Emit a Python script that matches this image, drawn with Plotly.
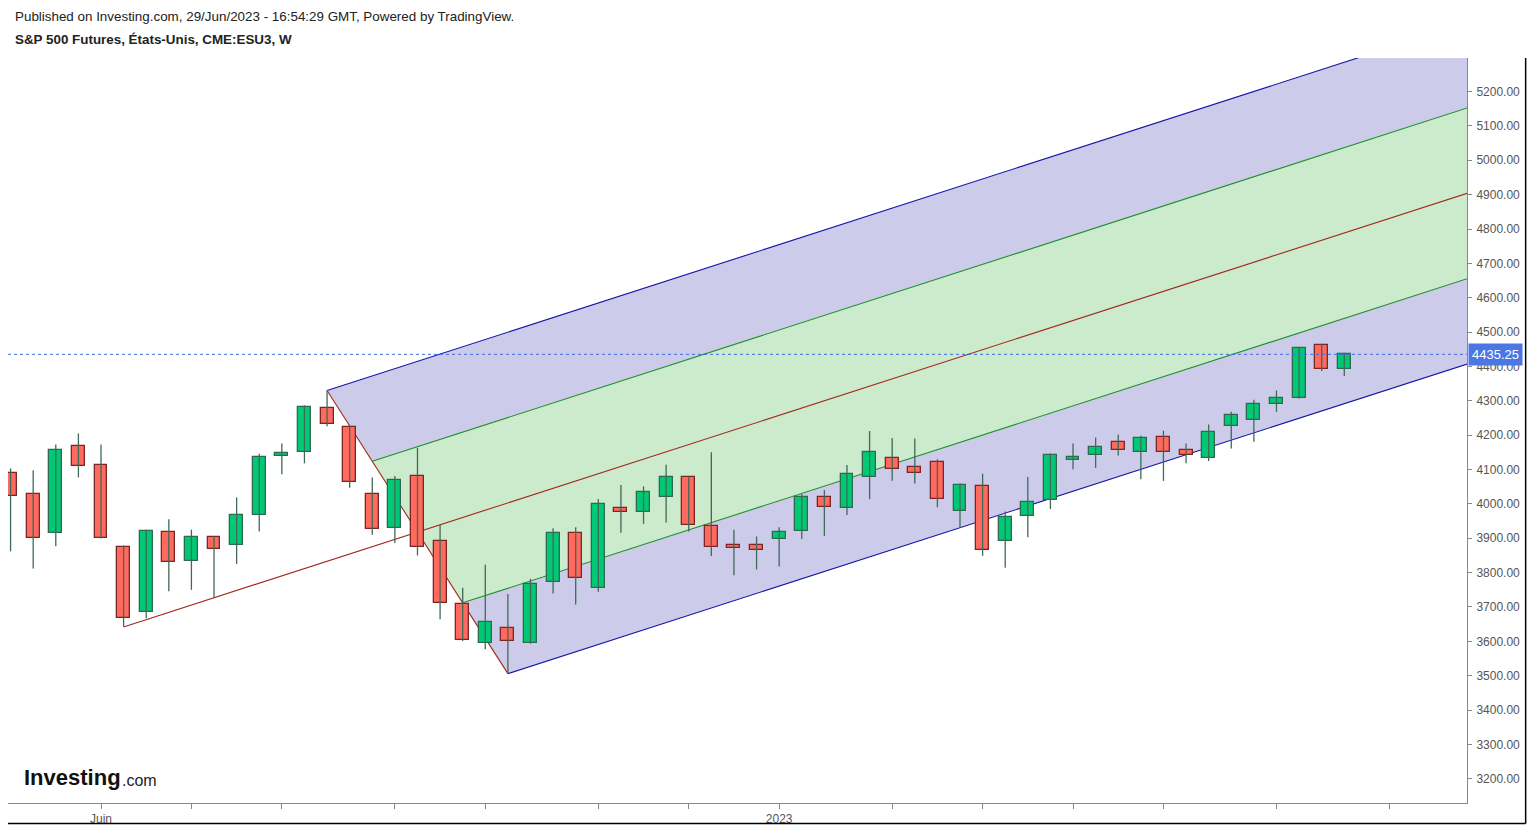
import pandas as pd
import plotly.graph_objects as go

# ---------------- data (weekly candles) ----------------
start_week = "2022-05-09"
opens  = [4090, 4028, 3914, 4168, 4113, 3874, 3685, 3917, 3833, 3904,
          3881, 3969, 4139, 4152, 4279, 4224, 4028, 3930, 4080, 3891,
          3709, 3594, 3640, 3594, 3774, 3914, 3755, 3987, 3975, 4021,
          4077, 3937, 3879, 3881, 3898, 3920, 4021, 3988, 4079, 4135,
          4106, 4123, 3979, 4051, 3891, 3966, 4012, 4129, 4142, 4179,
          4152, 4195, 4156, 4135, 4227, 4243, 4292, 4308, 4462, 4392]
highs  = [4103, 4098, 4173, 4205, 4173, 3879, 3925, 3955, 3925, 3905,
          4019, 4146, 4176, 4287, 4330, 4226, 4077, 4081, 4163, 3939,
          3756, 3823, 3738, 3782, 3929, 3932, 4014, 4055, 4051, 4114,
          4078, 4150, 3925, 3905, 3932, 4028, 4040, 4113, 4212, 4192,
          4190, 4130, 4059, 4088, 3978, 4078, 4147, 4176, 4193, 4202,
          4198, 4213, 4176, 4231, 4268, 4303, 4330, 4456, 4466, 4440]
lows   = [3862, 3812, 3877, 4077, 3899, 3642, 3667, 3746, 3750, 3727,
          3825, 3920, 4086, 4118, 4226, 4047, 3910, 3886, 3850, 3664,
          3601, 3577, 3506, 3593, 3739, 3707, 3744, 3916, 3942, 3946,
          3920, 3848, 3792, 3809, 3818, 3898, 3907, 3968, 4014, 4067,
          4059, 3990, 3930, 3849, 3814, 3903, 3985, 4101, 4105, 4141,
          4072, 4067, 4118, 4125, 4161, 4181, 4268, 4306, 4387, 4372]
closes = [4022, 3901, 4158, 4109, 3901, 3667, 3921, 3830, 3904, 3868,
          3969, 4136, 4149, 4282, 4233, 4064, 3927, 4071, 3874, 3711,
          3604, 3656, 3601, 3767, 3914, 3784, 4001, 3975, 4035, 4077,
          3940, 3874, 3872, 3865, 3917, 4021, 3992, 4087, 4152, 4103,
          4090, 4015, 4054, 3865, 3961, 4005, 4142, 4136, 4166, 4158,
          4191, 4152, 4142, 4208, 4260, 4292, 4308, 4455, 4392, 4435.25]

tick_dates  = ["2022-06-06", "2022-07-04", "2022-08-01", "2022-09-05", "2022-10-03",
               "2022-11-07", "2022-12-05", "2023-01-02", "2023-02-06", "2023-03-06",
               "2023-04-03", "2023-05-01", "2023-06-05", "2023-07-10"]
tick_labels = ["Juin", "", "", "", "", "", "", "2023", "", "", "", "", "", ""]
price_ticks = list(range(3200, 5201, 100))
price_tick_labels = [f"{v:.2f}" for v in price_ticks]

title_line1 = "Published on Investing.com, 29/Jun/2023 - 16:54:29 GMT, Powered by TradingView."
title_line2 = "S&P 500 Futures, États-Unis, CME:ESU3, W"

# pitchfork pivots: candle indices (low, high, low)
pivot_a, pivot_b, pivot_c = 5, 14, 22

# ---------------- styles ----------------
UP_FILL, DOWN_FILL = "#00C875", "#FF695E"
UP_EDGE, DOWN_EDGE = "#2E6A52", "#7A2626"
WICK = "#3E6A57"
BLUE_LINE, GREEN_LINE, RED_LINE = "#1414A8", "#1F8F2A", "#A3281E"
BLUE_FILL, GREEN_FILL = "#CCCCEA", "#CCEACC"
AXIS_TXT = "#555555"
FONT = "Liberation Sans, Arial, sans-serif"

dates = pd.date_range(start_week, periods=len(opens), freq="7D")
day = pd.Timedelta(days=1)
x_start = dates[0] - 0.8 * day
x_end = dates[0] + 451.0 * day
y_range = [3129.5, 5297.7]


def t(d):
    return (d - dates[0]) / day


def to_date(v):
    return dates[0] + pd.to_timedelta(v, unit="D")


# ---------------- pitchfork geometry from pivots ----------------
xa, pa = t(dates[pivot_a]), lows[pivot_a]
xb, pb = t(dates[pivot_b]), highs[pivot_b]
xc, pc = t(dates[pivot_c]), lows[pivot_c]
xm, pm = (xb + xc) / 2, (pb + pc) / 2
slope = (pm - pa) / (xm - xa)
xe = t(x_end) + 2


def handle_pt(f):  # f=1 -> B, f=-1 -> C, f=0 -> midpoint
    return xm + f * (xb - xm), pm + f * (pb - pm)


def end_pt(f):
    hx, hy = handle_pt(f)
    return xe, hy + slope * (xe - hx)


fig = go.Figure()


def poly(f1, f2, color):
    pts = [handle_pt(f1), end_pt(f1), end_pt(f2), handle_pt(f2), handle_pt(f1)]
    fig.add_trace(go.Scatter(x=[to_date(p[0]) for p in pts], y=[p[1] for p in pts],
                             mode="lines", fill="toself", fillcolor=color,
                             line=dict(width=0), hoverinfo="skip", showlegend=False))


poly(1, 0.5, BLUE_FILL)
poly(0.5, -0.5, GREEN_FILL)
poly(-0.5, -1, BLUE_FILL)


def seg(p1, p2, color):
    fig.add_trace(go.Scatter(x=[to_date(p1[0]), to_date(p2[0])], y=[p1[1], p2[1]],
                             mode="lines", line=dict(color=color, width=1.1),
                             hoverinfo="skip", showlegend=False))


for f, c in [(1, BLUE_LINE), (0.5, GREEN_LINE), (-0.5, GREEN_LINE), (-1, BLUE_LINE)]:
    seg(handle_pt(f), end_pt(f), c)
seg((xa, pa), end_pt(0), RED_LINE)
seg(handle_pt(1), handle_pt(-1), RED_LINE)

# ---------------- candles on an overlaid axis pair (drawn above the fills) ----------------
wx, wy = [], []
for d, h, l in zip(dates, highs, lows):
    wx += [d, d, None]
    wy += [l, h, None]
fig.add_trace(go.Scatter(x=wx, y=wy, mode="lines", line=dict(color=WICK, width=1.3),
                         hoverinfo="skip", showlegend=False, xaxis="x2", yaxis="y2"))

up = [c >= o for o, c in zip(opens, closes)]
fig.add_trace(go.Bar(
    x=dates,
    base=[min(o, c) for o, c in zip(opens, closes)],
    y=[max(abs(c - o), 1.5) for o, c in zip(opens, closes)],
    width=4.0 * 86400000,
    marker=dict(color=[UP_FILL if u else DOWN_FILL for u in up],
                line=dict(color=[UP_EDGE if u else DOWN_EDGE for u in up], width=1.3)),
    hoverinfo="skip", showlegend=False, xaxis="x2", yaxis="y2"))

# ---------------- layout ----------------
last = closes[-1]
fig.update_layout(
    width=1533, height=834, autosize=False,
    margin=dict(l=8, r=66, t=58, b=27, pad=0),
    paper_bgcolor="white", plot_bgcolor="white",
    barmode="overlay", bargap=0,
    font=dict(family=FONT, size=12, color=AXIS_TXT),
    xaxis=dict(type="date", range=[x_start, x_end], showgrid=False, zeroline=False,
               showline=True, linecolor="#888888", linewidth=1,
               ticks="outside", ticklen=5, tickcolor="#888888",
               tickvals=tick_dates, ticktext=tick_labels,
               tickfont=dict(size=12, color=AXIS_TXT, family=FONT),
               fixedrange=True),
    yaxis=dict(side="right", range=y_range, showgrid=False, zeroline=False,
               showline=True, linecolor="#888888", linewidth=1,
               ticks="outside", ticklen=4, tickcolor="#888888",
               ticklabelstandoff=2,
               tickvals=price_ticks, ticktext=price_tick_labels,
               tickfont=dict(size=12, color=AXIS_TXT, family=FONT),
               fixedrange=True),
    xaxis2=dict(type="date", overlaying="x", matches="x", range=[x_start, x_end],
                visible=False, fixedrange=True),
    yaxis2=dict(overlaying="y", matches="y", range=y_range, side="right",
                visible=False, fixedrange=True),
    shapes=[
        dict(type="line", xref="paper", yref="y", x0=0, x1=1, y0=last, y1=last,
             line=dict(color="#3D6BE0", width=1, dash="dot")),
        dict(type="line", xref="paper", yref="paper", x0=0, x1=1.0402, y0=-0.0275, y1=-0.0275,
             line=dict(color="black", width=1.5)),
        dict(type="line", xref="paper", yref="paper", x0=1.0402, x1=1.0402, y0=-0.0275, y1=1.0,
             line=dict(color="black", width=1.5)),
    ],
    annotations=[
        dict(text=title_line1, xref="paper", yref="paper", x=0.0035, y=1.0555,
             xanchor="left", yanchor="middle", showarrow=False,
             font=dict(size=13.4, color="#222222", family=FONT)),
        dict(text="<b>" + title_line2 + "</b>", xref="paper", yref="paper", x=0.0035, y=1.0248,
             xanchor="left", yanchor="middle", showarrow=False,
             font=dict(size=13.4, color="#222222", family=FONT)),
        dict(text=f"{last:.2f}", xref="paper", yref="y", x=1.0, y=last,
             xanchor="left", yanchor="middle", showarrow=False,
             bgcolor="#4A77E5", borderpad=3, xshift=1,
             font=dict(size=13, color="white", family=FONT)),
        dict(text="<b>Investing</b>", xref="paper", yref="paper", x=0.0096, y=0.0340,
             xanchor="left", yanchor="middle", showarrow=False,
             font=dict(size=22, color="#111111",
                       family="Liberation Sans Narrow, Arial Narrow, Liberation Sans, Arial")),
        dict(text=".com", xref="paper", yref="paper", x=0.0768, y=0.0306,
             xanchor="left", yanchor="middle", showarrow=False,
             font=dict(size=16, color="#222222",
                       family="Liberation Sans Narrow, Arial Narrow, Liberation Sans, Arial")),
    ],
)

fig.write_html("out.html", config={"displayModeBar": False},
               post_script="document.body.style.margin='0';document.body.style.overflow='hidden';")
